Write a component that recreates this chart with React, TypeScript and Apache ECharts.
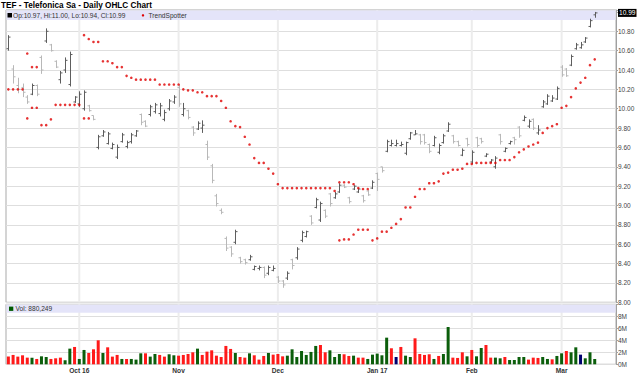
import React, { useEffect, useRef } from 'react';
import * as echarts from 'echarts';

const dates = [
  'Sep 12','Sep 13','Sep 14','Sep 15','Sep 16','Sep 19','Sep 20','Sep 21','Sep 22','Sep 23','Sep 26','Sep 27','Sep 28','Sep 29','Sep 30',
  'Oct 3','Oct 4','Oct 5','Oct 6','Oct 7','Oct 10','Oct 11','Oct 12','Oct 13','Oct 14','Oct 17','Oct 18','Oct 19','Oct 20','Oct 21','Oct 24','Oct 25','Oct 26','Oct 27','Oct 28','Oct 31',
  'Nov 1','Nov 2','Nov 3','Nov 4','Nov 7','Nov 8','Nov 9','Nov 10','Nov 11','Nov 14','Nov 15','Nov 16','Nov 17','Nov 18','Nov 21','Nov 22','Nov 23','Nov 25','Nov 28','Nov 29','Nov 30',
  'Dec 1','Dec 2','Dec 5','Dec 6','Dec 7','Dec 8','Dec 9','Dec 12','Dec 13','Dec 14','Dec 15','Dec 16','Dec 19','Dec 20','Dec 21','Dec 22','Dec 23','Dec 27','Dec 28','Dec 29','Dec 30',
  'Jan 3','Jan 4','Jan 5','Jan 6','Jan 9','Jan 10','Jan 11','Jan 12','Jan 13','Jan 17','Jan 18','Jan 19','Jan 20','Jan 23','Jan 24','Jan 25','Jan 26','Jan 27','Jan 30','Jan 31',
  'Feb 1','Feb 2','Feb 3','Feb 6','Feb 7','Feb 8','Feb 9','Feb 10','Feb 13','Feb 14','Feb 15','Feb 16','Feb 17','Feb 21','Feb 22','Feb 23','Feb 24','Feb 27','Feb 28',
  'Mar 1','Mar 2','Mar 3','Mar 6','Mar 7','Mar 8','Mar 9','Mar 10',
];
const padCats = ['pad1', 'pad2', 'pad3', 'pad4'];
const monthStarts = ['Oct 3', 'Nov 1', 'Dec 1', 'Jan 3', 'Feb 1', 'Mar 1'];
const monthLabels = ['Oct 16', 'Nov', 'Dec', 'Jan 17', 'Feb', 'Mar'];

const opens = [
  10.62,10.41,10.24,10.22,10.12,10.15,10.24,10.53,10.70,10.66,10.49,10.30,10.40,10.25,10.07,
  10.05,10.00,10.03,9.93,9.60,9.72,9.64,9.59,9.50,9.66,9.61,9.66,9.72,9.94,9.87,9.94,9.97,9.95,9.89,10.00,10.07,
  10.22,9.94,9.98,9.81,9.79,9.80,9.63,9.41,9.10,8.95,8.66,8.57,8.62,8.46,8.44,8.44,8.34,8.35,8.36,8.30,8.33,
  8.26,8.22,8.25,8.44,8.46,8.64,8.68,8.89,8.98,8.85,8.95,9.12,9.08,9.14,9.21,9.08,9.17,9.14,9.10,9.15,9.18,
  9.33,9.40,9.56,9.62,9.62,9.62,9.54,9.69,9.73,9.73,9.73,9.63,9.62,9.55,9.65,9.77,9.72,9.66,9.52,9.69,
  9.45,9.70,9.69,9.51,9.45,9.40,9.73,9.56,9.64,9.70,9.81,9.88,9.82,9.89,9.75,10.02,10.05,10.08,10.10,
  10.43,10.41,10.45,10.62,10.63,10.69,10.85,10.97,
];
const highs = [
  10.76,10.45,10.32,10.26,10.14,10.26,10.25,10.55,10.83,10.67,10.50,10.39,10.53,10.59,10.13,
  10.18,10.19,10.04,9.93,9.73,9.78,9.76,9.65,9.63,9.75,9.67,9.75,9.78,9.95,9.88,10.04,10.06,10.06,9.99,10.10,10.14,
  10.25,10.06,9.99,9.82,9.87,9.88,9.67,9.43,9.12,8.97,8.68,8.58,8.75,8.47,8.45,8.49,8.38,8.38,8.37,8.38,8.38,
  8.27,8.23,8.32,8.45,8.57,8.74,8.74,8.90,9.08,9.04,8.96,9.13,9.14,9.23,9.22,9.09,9.21,9.18,9.11,9.16,9.26,
  9.34,9.40,9.68,9.68,9.68,9.66,9.66,9.76,9.78,9.74,9.74,9.64,9.72,9.64,9.74,9.86,9.73,9.67,9.59,9.70,
  9.57,9.71,9.70,9.54,9.48,9.51,9.74,9.60,9.67,9.71,9.82,9.93,9.89,9.90,9.83,10.09,10.15,10.14,10.23,
  10.45,10.42,10.56,10.68,10.69,10.74,10.93,11.00,
];
const lows = [
  10.60,10.26,10.16,10.12,10.05,10.14,10.13,10.36,10.68,10.59,10.42,10.26,10.37,10.23,10.06,
  10.02,9.98,9.97,9.88,9.58,9.71,9.63,9.58,9.48,9.65,9.59,9.64,9.71,9.83,9.81,9.92,9.95,9.92,9.87,9.98,10.05,
  10.02,9.92,9.89,9.72,9.78,9.75,9.47,9.23,8.99,8.91,8.53,8.47,8.60,8.40,8.39,8.43,8.33,8.33,8.25,8.28,8.32,
  8.20,8.15,8.23,8.34,8.44,8.62,8.67,8.80,8.97,8.83,8.87,8.99,9.07,9.13,9.18,9.02,9.16,9.13,9.03,9.10,9.17,
  9.15,9.34,9.55,9.61,9.61,9.61,9.52,9.68,9.73,9.63,9.63,9.54,9.61,9.53,9.64,9.76,9.64,9.61,9.51,9.61,
  9.43,9.60,9.64,9.50,9.44,9.38,9.63,9.55,9.63,9.63,9.70,9.87,9.80,9.78,9.73,10.01,10.04,10.07,10.09,
  10.33,10.33,10.44,10.61,10.62,10.68,10.84,10.94,
];
const closes = [
  10.74,10.33,10.20,10.17,10.07,10.24,10.15,10.40,10.80,10.60,10.43,10.37,10.50,10.56,10.12,
  10.15,10.17,9.98,9.89,9.71,9.76,9.74,9.63,9.60,9.73,9.65,9.73,9.77,9.86,9.82,10.02,10.04,10.03,9.96,10.08,10.12,
  10.05,10.00,9.91,9.75,9.85,9.83,9.50,9.26,9.02,8.93,8.56,8.50,8.73,8.42,8.41,8.47,8.37,8.36,8.28,8.36,8.35,
  8.22,8.18,8.30,8.38,8.55,8.72,8.73,8.82,9.06,9.02,8.89,9.02,9.12,9.21,9.19,9.04,9.20,9.17,9.05,9.11,9.24,
  9.27,9.36,9.66,9.64,9.64,9.63,9.65,9.75,9.74,9.66,9.65,9.56,9.70,9.62,9.72,9.84,9.66,9.62,9.57,9.63,
  9.55,9.62,9.66,9.53,9.47,9.49,9.66,9.59,9.66,9.68,9.72,9.91,9.87,9.80,9.78,10.07,10.13,10.11,10.21,
  10.35,10.34,10.54,10.66,10.66,10.73,10.91,10.99,
];
// volume in millions of shares
const volumesM = [
  1.30,1.56,1.28,1.50,1.11,1.11,0.89,1.33,1.22,0.89,1.00,1.11,0.67,2.61,2.89,
  0.89,2.39,1.89,2.50,4.00,1.89,2.83,1.28,1.56,0.89,0.89,0.89,0.78,1.83,1.83,1.28,1.72,1.56,1.28,1.67,1.50,
  1.44,1.56,1.72,2.00,2.61,1.56,2.11,2.33,1.44,1.22,3.06,2.56,1.89,1.22,1.11,1.83,1.50,0.78,1.39,1.89,1.61,
  1.72,1.33,1.44,2.50,1.22,2.22,1.56,2.06,3.06,3.22,2.00,2.33,1.22,1.72,1.67,1.39,1.44,1.11,1.11,0.89,1.61,
  1.78,1.50,4.44,2.67,1.22,2.89,1.44,1.22,4.33,1.72,1.56,1.67,0.89,1.39,1.72,6.22,1.11,1.06,2.00,1.33,
  2.39,1.33,2.72,3.22,1.11,1.11,1.00,1.22,0.72,0.72,1.22,1.22,0.78,1.11,1.06,1.22,0.89,0.83,1.39,
  1.83,2.22,2.00,2.83,1.61,1.00,2.00,0.88,
];
const N = null;
const tsUpper = [
  N,N,N,N,10.57,10.43,10.43,N,N,N,N,N,N,N,N,
  N,10.76,10.72,10.69,10.69,10.49,10.49,10.47,10.43,10.43,10.34,10.32,10.30,10.30,10.30,10.30,10.30,10.25,10.25,10.25,10.25,
  10.25,10.20,10.19,10.19,10.17,10.17,10.13,10.13,10.13,10.08,10.01,9.87,9.82,9.81,9.71,9.63,9.49,9.44,9.44,9.38,9.33,
  9.22,9.18,9.18,9.18,9.18,9.18,9.18,9.18,9.18,9.18,9.18,9.18,9.15,9.24,9.24,9.24,9.22,9.18,9.17,9.17,N,
  N,N,N,N,N,N,N,N,N,N,N,N,N,N,N,N,N,N,N,N,
  N,N,N,N,N,N,N,N,N,N,N,N,N,N,N,N,N,N,N,
  N,N,N,N,N,N,N,N,
];
const tsLower = [
  10.20,10.20,10.20,10.20,9.90,10.01,10.01,9.83,9.83,9.89,10.04,10.04,10.04,10.04,10.04,
  10.04,9.90,9.90,N,N,N,N,N,N,N,N,N,N,N,N,N,N,N,N,N,N,
  N,N,N,N,N,N,N,N,N,N,N,N,N,N,N,N,N,N,N,N,N,
  N,N,N,N,N,N,N,N,N,N,N,N,N,8.64,8.65,8.65,8.70,8.75,8.75,8.75,8.64,
  8.66,8.73,8.73,8.77,8.81,8.86,8.98,8.98,9.09,9.17,9.17,9.23,9.23,9.25,9.33,9.34,9.37,9.37,9.38,9.43,
  9.43,9.44,9.44,9.44,9.44,9.44,9.47,9.47,9.47,9.50,9.55,9.58,9.61,9.63,9.65,9.75,9.80,9.82,9.84,
  10.01,10.03,10.12,10.21,10.27,10.32,10.45,10.51,
];

const titleText = 'TEF - Telefonica Sa - Daily OHLC Chart';
const lastInfo = 'Op:10.97, Hi:11.00, Lo:10.94, Cl:10.99';
const lastClose = 10.99;
const volLabel = 'Vol: 880,249';

const FONT = '"Liberation Sans", Arial, Helvetica, sans-serif';
const UP_BAR = '#5e5e5e';
const DOWN_BAR = '#b8b8b8';
const VOL_UP = '#0b5e0b';
const VOL_DOWN = '#ff1a1a';
const VOL_FLAT = '#00006e';
const TS_RED = '#e00000';
const BAND = '#e4e4f9';

export default function App() {
  const ref = useRef<HTMLDivElement>(null);

  useEffect(() => {
    if (!ref.current) return;
    const chart = echarts.init(ref.current, null, { renderer: 'svg' });
    const cats = dates.concat(padCats);
    const ohlcData = dates.map((d, i) => [i, opens[i], closes[i], lows[i], highs[i]]);
    const monthIdx = monthStarts.map((m) => dates.indexOf(m));
    const volData = volumesM.map((v, i) => {
      const c = closes[i];
      const p = i > 0 ? closes[i - 1] : Infinity;
      const color = c > p ? VOL_UP : c < p ? VOL_DOWN : VOL_FLAT;
      return { value: v * 1e6, itemStyle: { color } };
    });
    const tsData: number[][] = [];
    dates.forEach((d, i) => {
      if (tsUpper[i] != null) tsData.push([i, tsUpper[i] as number]);
      if (tsLower[i] != null) tsData.push([i, tsLower[i] as number]);
    });

    const monthLine = (gridIdx: number, yv: number) => ({
      type: 'custom',
      xAxisIndex: gridIdx,
      yAxisIndex: gridIdx,
      z: 1,
      silent: true,
      data: monthIdx.map((i) => [i, yv]),
      encode: { x: 0, y: 1 },
      renderItem: (params: any, api: any) => {
        const x = api.coord([api.value(0), api.value(1)])[0];
        const cs = params.coordSys;
        return {
          type: 'rect',
          shape: { x: x - 1, y: cs.y, width: 2, height: cs.height },
          style: { fill: '#ececec' },
        };
      },
    });

    const textStyleSmall = { fontSize: 6.6, fill: '#333', fontFamily: FONT, verticalAlign: 'middle' };

    chart.setOption({
      animation: false,
      textStyle: { fontFamily: FONT },
      title: {
        text: titleText,
        left: 1,
        top: 1.5,
        padding: 0,
        textStyle: { fontSize: 8.2, fontWeight: 'bold', color: '#000', fontFamily: FONT },
      },
      grid: [
        { left: 6, right: 24, top: 10, height: 292.3, show: true, borderColor: '#a9a9a9', borderWidth: 1 },
        { left: 6, right: 24, top: 304.3, height: 60, show: true, borderColor: '#a9a9a9', borderWidth: 1 },
      ],
      xAxis: [
        {
          gridIndex: 0, type: 'category', data: cats, boundaryGap: true,
          axisLine: { show: false }, axisTick: { show: false }, axisLabel: { show: false }, splitLine: { show: false },
        },
        {
          gridIndex: 1, type: 'category', data: cats, boundaryGap: true,
          axisLine: { show: false }, axisTick: { show: false }, splitLine: { show: false },
          axisLabel: {
            show: true,
            interval: (idx: number, val: string) => monthStarts.indexOf(val) >= 0,
            formatter: (val: string) => {
              const k = monthStarts.indexOf(val);
              return k >= 0 ? monthLabels[k] : '';
            },
            fontSize: 6.6, fontWeight: 'bold', color: '#333', margin: 3, fontFamily: FONT,
          },
        },
      ],
      yAxis: [
        {
          gridIndex: 0, type: 'value', position: 'right', min: 8, max: 11.02, interval: 0.2,
          axisLine: { show: true, lineStyle: { color: '#a0a0a0' } },
          axisTick: { show: true, length: 2, lineStyle: { color: '#a0a0a0' } },
          axisLabel: {
            fontSize: 6.5, color: '#444', margin: 2, fontFamily: FONT,
            formatter: (v: number) => (v > 10.9 ? '' : v.toFixed(2)),
          },
          splitLine: { show: true, lineStyle: { color: '#dedede', width: 1 } },
        },
        {
          gridIndex: 1, type: 'value', position: 'right', min: 0, max: 10e6, interval: 2e6,
          axisLine: { show: true, lineStyle: { color: '#a0a0a0' } },
          axisTick: { show: true, length: 2, lineStyle: { color: '#a0a0a0' } },
          axisLabel: {
            fontSize: 6.5, color: '#444', margin: 2, fontFamily: FONT,
            formatter: (v: number) => (v >= 9.9e6 ? '' : Math.round(v / 1e6) + 'M'),
          },
          splitLine: { show: true, lineStyle: { color: '#dedede', width: 1 } },
        },
      ],
      graphic: [
        { type: 'rect', z: 3, silent: true, shape: { x: 6.5, y: 10.5, width: 609, height: 9.5 }, style: { fill: BAND } },
        { type: 'rect', z: 3, silent: true, shape: { x: 6.5, y: 304.8, width: 609, height: 8 }, style: { fill: BAND } },
        { type: 'rect', z: 10, silent: true, shape: { x: 7.5, y: 13, width: 4.5, height: 4.5 }, style: { fill: '#000' } },
        { type: 'text', z: 10, silent: true, x: 13, y: 15.4, style: { text: lastInfo, ...textStyleSmall } },
        { type: 'circle', z: 10, silent: true, shape: { cx: 143, cy: 15.4, r: 1.2 }, style: { fill: TS_RED } },
        { type: 'text', z: 10, silent: true, x: 148.5, y: 15.4, style: { text: 'TrendSpotter', ...textStyleSmall } },
        { type: 'rect', z: 10, silent: true, shape: { x: 9, y: 306.6, width: 4.3, height: 4.3 }, style: { fill: '#005a00' } },
        { type: 'text', z: 10, silent: true, x: 15.5, y: 308.8, style: { text: volLabel, ...textStyleSmall } },
      ],
      series: [
        monthLine(0, 9),
        monthLine(1, 1e6),
        {
          name: 'OHLC',
          type: 'custom',
          xAxisIndex: 0,
          yAxisIndex: 0,
          z: 5,
          data: ohlcData,
          encode: { x: 0, y: [1, 2, 3, 4] },
          renderItem: (params: any, api: any) => {
            const idx = api.value(0);
            const o = api.value(1);
            const c = api.value(2);
            const l = api.value(3);
            const h = api.value(4);
            const pH = api.coord([idx, h]);
            const pL = api.coord([idx, l]);
            const pO = api.coord([idx, o]);
            const pC = api.coord([idx, c]);
            const x = Math.round(pH[0]) + 0.5;
            const color = c >= o ? UP_BAR : DOWN_BAR;
            const style = { stroke: color, lineWidth: 1 };
            return {
              type: 'group',
              children: [
                { type: 'line', shape: { x1: x, y1: pH[1], x2: x, y2: pL[1] }, style },
                { type: 'line', shape: { x1: x - 2, y1: pO[1], x2: x, y2: pO[1] }, style },
                { type: 'line', shape: { x1: x, y1: pC[1], x2: x + 2, y2: pC[1] }, style },
              ],
            };
          },
          markLine: {
            silent: true,
            symbol: 'none',
            data: [{ yAxis: lastClose }],
            lineStyle: { color: 'rgba(0,0,0,0)', width: 0 },
            label: {
              show: true,
              position: 'end',
              distance: 2,
              formatter: lastClose.toFixed(2),
              color: '#fff',
              backgroundColor: '#000',
              padding: [1, 1, 0, 1],
              fontSize: 6.6,
              fontFamily: FONT,
            },
          },
        },
        {
          name: 'TrendSpotter',
          type: 'scatter',
          xAxisIndex: 0,
          yAxisIndex: 0,
          z: 6,
          symbol: 'circle',
          symbolSize: 2.6,
          itemStyle: { color: TS_RED },
          data: tsData,
        },
        {
          name: 'Volume',
          type: 'bar',
          xAxisIndex: 1,
          yAxisIndex: 1,
          z: 5,
          barWidth: 3,
          data: volData,
        },
      ],
    });
    return () => chart.dispose();
  }, []);

  return (
    <div
      ref={ref}
      style={{ position: 'absolute', left: 0, top: 0, width: 640, height: 389, background: '#fff' }}
    />
  );
}
